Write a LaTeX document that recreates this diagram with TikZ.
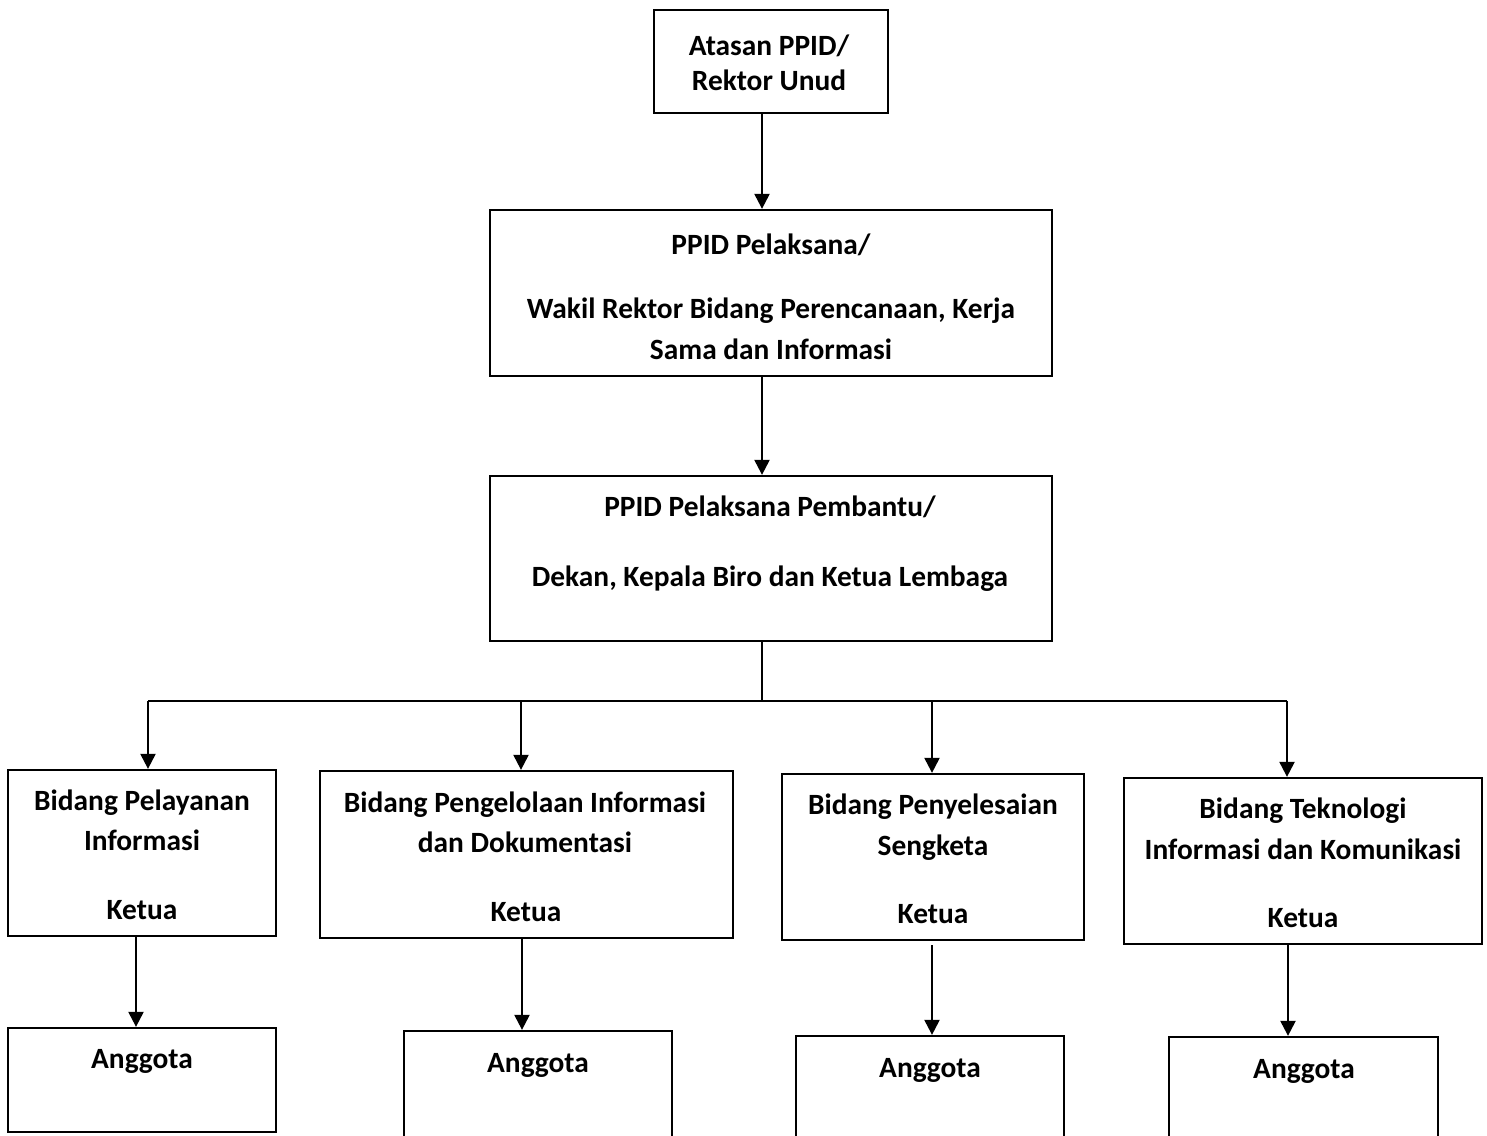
\documentclass[tikz,border=0pt]{standalone}
\usepackage{fontspec}
\setmainfont{Carlito}
\usetikzlibrary{arrows.meta}
\begin{document}
\begin{tikzpicture}[x=0.5pt,y=-0.5pt,
  box/.style={draw=black,line width=1.15pt,inner sep=0pt,fill=none},
  lbl/.style={anchor=base,inner sep=0pt,font=\fontsize{14.7}{18}\selectfont\bfseries},
  arr/.style={line width=1.1pt,-{Triangle[width=7.5pt,length=7.5pt]}},
  ln/.style={line width=1.1pt}]
\clip (0,0) rectangle (1487,1135);
\fill[white] (0,0) rectangle (1487,1135);
% boxes
\node[box,minimum width=117pt,minimum height=51.5pt] (atasan) at (771,61.5) {};
\node[box,minimum width=281pt,minimum height=83pt] (ppid) at (771,293) {};
\node[box,minimum width=281pt,minimum height=82.5pt] (pemb) at (771,558.5) {};
\node[box,minimum width=134pt,minimum height=83pt] (b1) at (142,853) {};
\node[box,minimum width=134pt,minimum height=52pt] (a1) at (142,1080) {};
\node[box,minimum width=206.5pt,minimum height=83.5pt] (b2) at (526.5,854.5) {};
\node[box,minimum width=134pt,minimum height=74.5pt] (a2) at (538,1105.5) {};
\node[box,minimum width=151pt,minimum height=83pt] (b3) at (933,857) {};
\node[box,minimum width=134pt,minimum height=72pt] (a3) at (930,1108) {};
\node[box,minimum width=179pt,minimum height=83pt] (b4) at (1303,861) {};
\node[box,minimum width=134.5pt,minimum height=71.5pt] (a4) at (1303.5,1108.5) {};
% texts
\node[lbl] (t1a) at (769,55) {Atasan PPID/};
\node[lbl] (t1b) at (769,90) {Rektor Unud};
\node[lbl] (t2a) at (771,254) {PPID Pelaksana/};
\node[lbl] (t2b) at (771,318) {Wakil Rektor Bidang Perencanaan, Kerja};
\node[lbl] (t2c) at (771,359) {Sama dan Informasi};
\node[lbl] (t3a) at (770,516) {PPID Pelaksana Pembantu/};
\node[lbl] (t3b) at (770,586) {Dekan, Kepala Biro dan Ketua Lembaga};
\node[lbl] (tb1a) at (142,810) {Bidang Pelayanan};
\node[lbl] (tb1b) at (142,850) {Informasi};
\node[lbl] (tb1c) at (142,919) {Ketua};
\node[lbl] (ta1) at (142,1068) {Anggota};
\node[lbl] (tb2a) at (525,812) {Bidang Pengelolaan Informasi};
\node[lbl] (tb2b) at (525,852) {dan Dokumentasi};
\node[lbl] (tb2c) at (526,921) {Ketua};
\node[lbl] (ta2) at (538,1072) {Anggota};
\node[lbl] (tb3a) at (933,814) {Bidang Penyelesaian};
\node[lbl] (tb3b) at (933,855) {Sengketa};
\node[lbl] (tb3c) at (933,923) {Ketua};
\node[lbl] (ta3) at (930,1077) {Anggota};
\node[lbl] (tb4a) at (1303,818) {Bidang Teknologi};
\node[lbl] (tb4b) at (1303,859) {Informasi dan Komunikasi};
\node[lbl] (tb4c) at (1303,927) {Ketua};
\node[lbl] (ta4) at (1304,1078) {Anggota};
% connector columns
\coordinate (cm) at (762,0);
\coordinate (bus) at (0,701);
\coordinate (c1) at (148,0);
\coordinate (c2) at (521,0);
\coordinate (c3) at (932,0);
\coordinate (c4) at (1287,0);
\coordinate (d1) at (136,0);
\coordinate (d2) at (522,0);
\coordinate (d3) at (932,0);
\coordinate (d4) at (1288,0);
\draw[arr] (atasan.south -| cm) -- (ppid.north -| cm);
\draw[arr] (ppid.south -| cm) -- (pemb.north -| cm);
\draw[ln] (pemb.south -| cm) -- (bus -| cm);
\draw[ln] (bus -| c1) -- (bus -| c4);
\draw[arr] (bus -| c1) -- (b1.north -| c1);
\draw[arr] (bus -| c2) -- (b2.north -| c2);
\draw[arr] (bus -| c3) -- (b3.north -| c3);
\draw[arr] (bus -| c4) -- (b4.north -| c4);
\draw[arr] (b1.south -| d1) -- (a1.north -| d1);
\draw[arr] (b2.south -| d2) -- (a2.north -| d2);
\draw[arr,shorten <=2pt] (b3.south -| d3) -- (a3.north -| d3);
\draw[arr] (b4.south -| d4) -- (a4.north -| d4);
\end{tikzpicture}
\end{document}
